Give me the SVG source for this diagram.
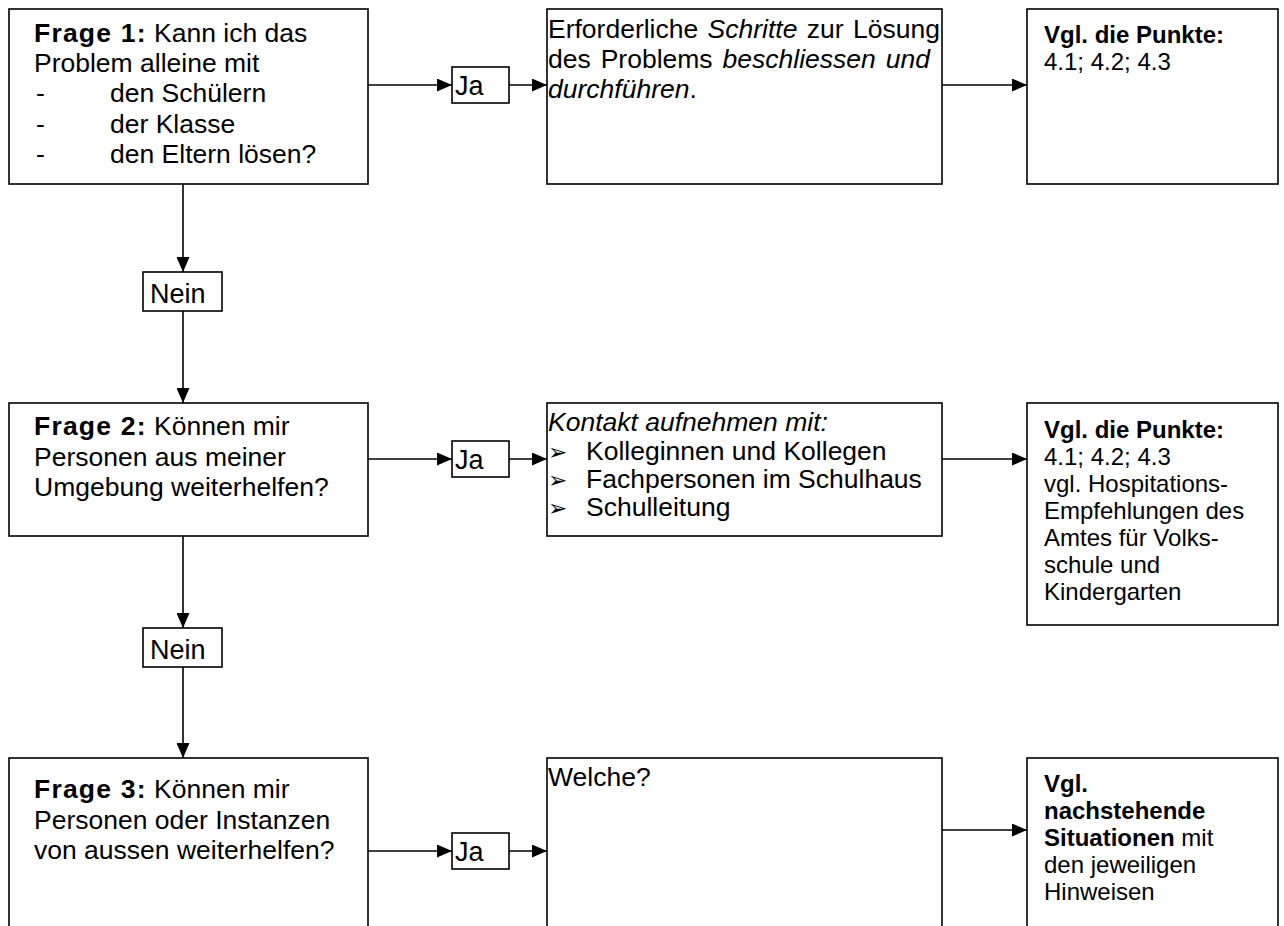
<svg xmlns="http://www.w3.org/2000/svg" width="1284" height="926" viewBox="0 0 1284 926">
<defs>
<marker id="ah" markerUnits="userSpaceOnUse" markerWidth="15" markerHeight="13" refX="15" refY="6.5" orient="auto">
<path d="M0,0 L15,6.5 L0,13 z" fill="#000"/>
</marker>
<style>
.box{fill:#fff;stroke:#000;stroke-width:1.6}
.ln{fill:none;stroke:#000;stroke-width:1.6}
text{font-family:"Liberation Sans",Arial,sans-serif;fill:#000}
.t{font-size:26.5px}
.s{font-size:24px}
.lbl{font-size:27px}
.b{font-weight:bold}
.fb{font-weight:bold;letter-spacing:1.2px}
.i{font-style:italic}
.bul{font-family:"DejaVu Sans",sans-serif;font-size:23px}
</style>
</defs>
<rect width="1284" height="926" fill="#fff"/>

<g id="connectors">
<line class="ln" x1="368" y1="85" x2="452" y2="85" marker-end="url(#ah)"/>
<line class="ln" x1="509" y1="85" x2="547" y2="85" marker-end="url(#ah)"/>
<line class="ln" x1="942" y1="85" x2="1027" y2="85" marker-end="url(#ah)"/>
<line class="ln" x1="183" y1="184" x2="183" y2="272" marker-end="url(#ah)"/>
<line class="ln" x1="183" y1="311" x2="183" y2="403" marker-end="url(#ah)"/>
<line class="ln" x1="368" y1="459" x2="452" y2="459" marker-end="url(#ah)"/>
<line class="ln" x1="509" y1="459" x2="547" y2="459" marker-end="url(#ah)"/>
<line class="ln" x1="942" y1="459" x2="1027" y2="459" marker-end="url(#ah)"/>
<line class="ln" x1="183" y1="536" x2="183" y2="628" marker-end="url(#ah)"/>
<line class="ln" x1="183" y1="667" x2="183" y2="758" marker-end="url(#ah)"/>
<line class="ln" x1="368" y1="851" x2="452" y2="851" marker-end="url(#ah)"/>
<line class="ln" x1="509" y1="851" x2="547" y2="851" marker-end="url(#ah)"/>
<line class="ln" x1="942" y1="830" x2="1027" y2="830" marker-end="url(#ah)"/>
</g>

<g id="frage1">
<rect class="box" x="9" y="9" width="359" height="175"/>
<text class="t" x="34" y="41.5"><tspan class="fb">Frage 1:</tspan> Kann ich das</text>
<text class="t" x="34" y="72">Problem alleine mit</text>
<text class="t" x="36" y="102">-</text><text class="t" x="110" y="102">den Schülern</text>
<text class="t" x="36" y="132.5">-</text><text class="t" x="110" y="132.5">der Klasse</text>
<text class="t" x="36" y="163">-</text><text class="t" x="110" y="163">den Eltern lösen?</text>
</g>

<g id="ja1">
<rect class="box" x="452" y="67" width="57" height="36"/>
<text class="lbl" x="455" y="95">Ja</text>
</g>

<g id="schritte">
<rect class="box" x="547" y="9" width="395" height="175"/>
<text class="t" y="38"><tspan x="548">Erforderliche</tspan><tspan class="i" x="707.6">Schritte</tspan><tspan x="806.8">zur</tspan><tspan x="853">Lösung</tspan></text>
<text class="t" y="68"><tspan x="548">des</tspan><tspan x="600.7">Problems</tspan><tspan class="i" x="722.6">beschliessen</tspan><tspan class="i" x="885.8">und</tspan></text>
<text class="t" x="548" y="98"><tspan class="i">durchführen</tspan>.</text>
</g>

<g id="punkte1">
<rect class="box" x="1027" y="9" width="251" height="175"/>
<text class="s b" x="1044" y="43">Vgl. die Punkte:</text>
<text class="s" x="1044" y="70">4.1; 4.2; 4.3</text>
</g>

<g id="nein1">
<rect class="box" x="143" y="272" width="79" height="39"/>
<text class="lbl" x="150" y="302.5">Nein</text>
</g>

<g id="frage2">
<rect class="box" x="9" y="403" width="359" height="133"/>
<text class="t" x="34" y="435"><tspan class="fb">Frage 2:</tspan> Können mir</text>
<text class="t" x="34" y="465.5">Personen aus meiner</text>
<text class="t" x="34" y="496">Umgebung weiterhelfen?</text>
</g>

<g id="ja2">
<rect class="box" x="452" y="441" width="57" height="36"/>
<text class="lbl" x="455" y="469">Ja</text>
</g>

<g id="kontakt">
<rect class="box" x="547" y="403" width="395" height="133"/>
<text class="t i" x="548" y="431">Kontakt aufnehmen mit:</text>
<text class="bul" x="548" y="460">➢</text><text class="t" x="586" y="460">Kolleginnen und Kollegen</text>
<text class="bul" x="548" y="488">➢</text><text class="t" x="586" y="488">Fachpersonen im Schulhaus</text>
<text class="bul" x="548" y="516">➢</text><text class="t" x="586" y="516">Schulleitung</text>
</g>

<g id="punkte2">
<rect class="box" x="1027" y="403" width="251" height="222"/>
<text class="s b" x="1044" y="438">Vgl. die Punkte:</text>
<text class="s" x="1044" y="465">4.1; 4.2; 4.3</text>
<text class="s" x="1044" y="492">vgl. Hospitations-</text>
<text class="s" x="1044" y="519">Empfehlungen des</text>
<text class="s" x="1044" y="546">Amtes für Volks-</text>
<text class="s" x="1044" y="573">schule und</text>
<text class="s" x="1044" y="600">Kindergarten</text>
</g>

<g id="nein2">
<rect class="box" x="143" y="628" width="79" height="39"/>
<text class="lbl" x="150" y="658.5">Nein</text>
</g>

<g id="frage3">
<rect class="box" x="9" y="758" width="359" height="190"/>
<text class="t" x="34" y="798"><tspan class="fb">Frage 3:</tspan> Können mir</text>
<text class="t" x="34" y="829">Personen oder Instanzen</text>
<text class="t" x="34" y="859">von aussen weiterhelfen?</text>
</g>

<g id="ja3">
<rect class="box" x="452" y="833" width="57" height="36"/>
<text class="lbl" x="455" y="861">Ja</text>
</g>

<g id="welche">
<rect class="box" x="547" y="758" width="395" height="190"/>
<text class="t" x="548" y="786">Welche?</text>
</g>

<g id="situationen">
<rect class="box" x="1027" y="758" width="251" height="190"/>
<text class="s b" x="1044" y="792">Vgl.</text>
<text class="s b" x="1044" y="819">nachstehende</text>
<text class="s" x="1044" y="846"><tspan class="b">Situationen</tspan> mit</text>
<text class="s" x="1044" y="873">den jeweiligen</text>
<text class="s" x="1044" y="900">Hinweisen</text>
</g>
</svg>
